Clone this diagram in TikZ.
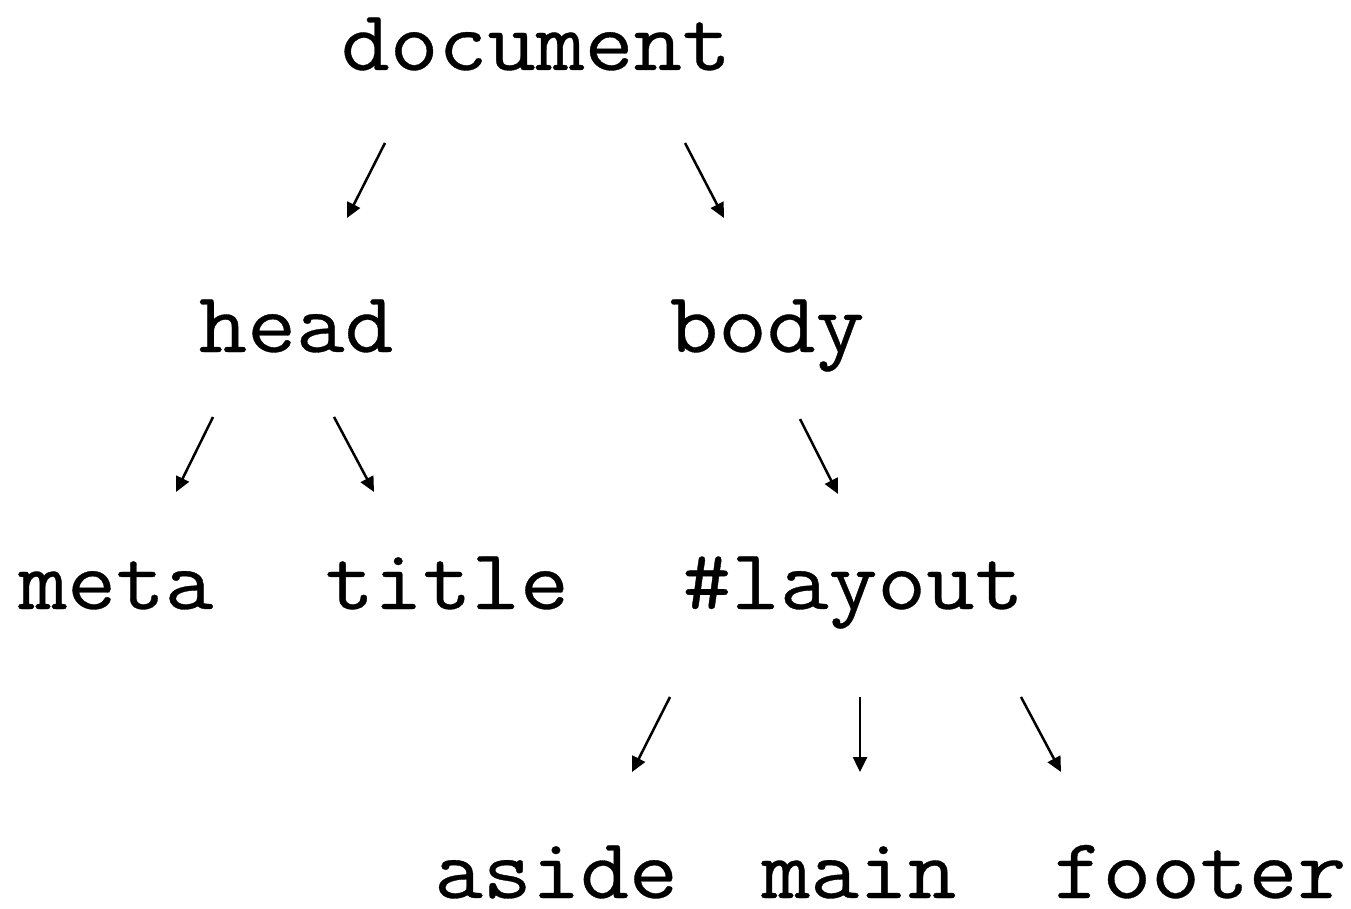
\documentclass[tikz,border=0pt]{standalone}
\usepackage{fontspec}
\newfontfamily\treefont[FakeBold=0.4,FakeStretch=1.1]{Latin Modern Mono}
\usetikzlibrary{arrows.meta}
\tikzset{
  lbl/.style={anchor=base,inner sep=0pt,font=\fontsize{86}{86}\selectfont\treefont},
  arr/.style={line width=2.5pt,-{Triangle[length=15pt,width=14pt]}}
}
\begin{document}
\begin{tikzpicture}[x=1pt,y=-1pt]
\useasboundingbox (0,0) rectangle (1351,909);
\node[lbl] (document) at (536,70) {document};
\node[lbl] (head) at (296,352) {head};
\node[lbl] (body) at (767,352) {body};
\node[lbl] (meta) at (116,609) {meta};
\node[lbl] (title) at (447,609) {title};
\node[lbl] (layout) at (853,609) {\#layout};
\node[lbl] (aside) at (556,898) {aside};
\node[lbl] (main) at (859,898) {main};
\node[lbl] (footer) at (1200,898) {footer};
\coordinate (a1) at (385,143); \coordinate (b1) at (347,218);
\coordinate (a2) at (685,143); \coordinate (b2) at (724,218);
\coordinate (a3) at (213,417); \coordinate (b3) at (176,492);
\coordinate (a4) at (334,417); \coordinate (b4) at (374,492);
\coordinate (a5) at (800,419); \coordinate (b5) at (838,494);
\coordinate (a6) at (670,697); \coordinate (b6) at (632,772);
\coordinate (a7) at (860,697); \coordinate (b7) at (860,772);
\coordinate (a8) at (1021,697); \coordinate (b8) at (1061,772);
\foreach \i in {1,...,8} \draw[arr] (a\i) -- (b\i);
\end{tikzpicture}
\end{document}
